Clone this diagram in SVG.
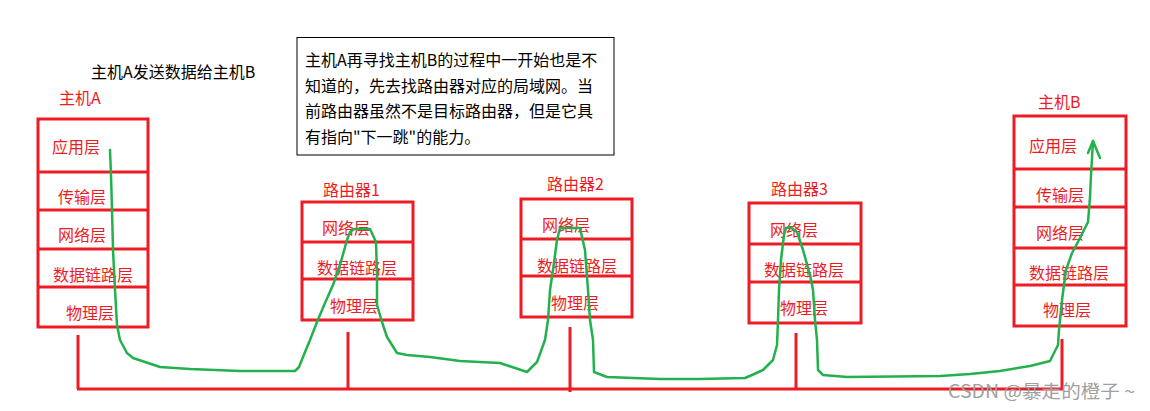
<svg xmlns="http://www.w3.org/2000/svg" width="1150" height="411" viewBox="0 0 1150 411">
<style>
.box{fill:none;stroke:#ed1c24;stroke-width:3}
.wire{fill:none;stroke:#ed1c24;stroke-width:3}
.lbl{font-family:"Microsoft YaHei","Noto Sans CJK SC",sans-serif;font-size:16px;fill:#ed1c24;dominant-baseline:central}
.blk{font-family:"Microsoft YaHei","Noto Sans CJK SC",sans-serif;font-size:16px;fill:#000;dominant-baseline:central}
.path{fill:none;stroke:#22b14c;stroke-width:2.5;stroke-linejoin:round;stroke-linecap:round}
</style>
<rect width="1150" height="411" fill="#fff"/>
<text class="blk" x="91" y="71">主机A发送数据给主机B</text>
<g id="note">
<rect x="297" y="37.5" width="317" height="117.5" fill="#fff" stroke="#000" stroke-width="1"/>
<text class="blk" x="305" y="59">主机A再寻找主机B的过程中一开始也是不</text>
<text class="blk" x="305" y="85">知道的，先去找路由器对应的局域网。当</text>
<text class="blk" x="305" y="110">前路由器虽然不是目标路由器，但是它具</text>
<text class="blk" x="305" y="136">有指向"下一跳"的能力。</text>
</g>
<g id="hostA">
<text class="lbl" x="59" y="97">主机A</text>
<rect class="box" x="38" y="119" width="110" height="208"/>
<line class="box" x1="38" y1="172" x2="148" y2="172"/>
<line class="box" x1="38" y1="210" x2="148" y2="210"/>
<line class="box" x1="38" y1="249" x2="148" y2="249"/>
<line class="box" x1="38" y1="287" x2="148" y2="287"/>
<text class="lbl" x="52" y="146">应用层</text>
<text class="lbl" x="58" y="196">传输层</text>
<text class="lbl" x="58" y="234">网络层</text>
<text class="lbl" x="53" y="274">数据链路层</text>
<text class="lbl" x="66" y="312">物理层</text>
</g>
<g id="router1">
<text class="lbl" x="323" y="189">路由器1</text>
<rect class="box" x="302" y="202" width="111" height="118"/>
<line class="box" x1="302" y1="242" x2="413" y2="242"/>
<line class="box" x1="302" y1="279" x2="413" y2="279"/>
<text class="lbl" x="322" y="227">网络层</text>
<text class="lbl" x="317" y="267">数据链路层</text>
<text class="lbl" x="330" y="305">物理层</text>
</g>
<g id="router2">
<text class="lbl" x="547" y="183">路由器2</text>
<rect class="box" x="521" y="199" width="111" height="118"/>
<line class="box" x1="521" y1="239" x2="632" y2="239"/>
<line class="box" x1="521" y1="276" x2="632" y2="276"/>
<text class="lbl" x="542" y="224">网络层</text>
<text class="lbl" x="537" y="265">数据链路层</text>
<text class="lbl" x="551" y="302">物理层</text>
</g>
<g id="router3">
<text class="lbl" x="771" y="188">路由器3</text>
<rect class="box" x="749" y="203" width="112" height="120"/>
<line class="box" x1="749" y1="244" x2="861" y2="244"/>
<line class="box" x1="749" y1="282" x2="861" y2="282"/>
<text class="lbl" x="770" y="229">网络层</text>
<text class="lbl" x="764" y="269">数据链路层</text>
<text class="lbl" x="780" y="307">物理层</text>
</g>
<g id="hostB">
<text class="lbl" x="1038" y="101">主机B</text>
<rect class="box" x="1014" y="116" width="112" height="210"/>
<line class="box" x1="1014" y1="169" x2="1126" y2="169"/>
<line class="box" x1="1014" y1="207" x2="1126" y2="207"/>
<line class="box" x1="1014" y1="248" x2="1126" y2="248"/>
<line class="box" x1="1014" y1="285" x2="1126" y2="285"/>
<text class="lbl" x="1029" y="145">应用层</text>
<text class="lbl" x="1036" y="194">传输层</text>
<text class="lbl" x="1036" y="232">网络层</text>
<text class="lbl" x="1029" y="272">数据链路层</text>
<text class="lbl" x="1043" y="309">物理层</text>
</g>
<g id="connectors">
<line class="wire" x1="77" y1="389" x2="1063" y2="389"/>
<line class="wire" x1="78" y1="335" x2="78" y2="389"/>
<line class="wire" x1="348" y1="332" x2="348" y2="389"/>
<line class="wire" x1="570" y1="327" x2="570" y2="392"/>
<line class="wire" x1="796" y1="333" x2="796" y2="389"/>
<line class="wire" x1="1062" y1="339" x2="1062" y2="389"/>
<path class="path" d="M110,150 L111,175 L112,210 L113,250 L115,290 L117,325 L120,340 L127,353 L133,358 L145,362 L160,367 L190,369 L240,371 L295,371 L299,367 L303,357 L310,340 L317,322 L325,303 L333,285 L340,265 L347,240 L350,232 L354,229 L370,229 L376,242 L377,275 L377,305 L382,322 L387,337 L397,353 L407,355 L430,357 L460,361 L500,363 L527,372 L537,362 L545,340 L548,320 L550,290 L553,270 L557,240 L560,228 L580,228 L585,250 L588,290 L590,320 L593,340 L594,372 L607,377 L660,379 L700,379 L745,378 L752,375 L763,370 L773,360 L777,345 L778,320 L779,290 L781,260 L784,235 L786,228 L790,227 L797,232 L803,250 L810,275 L813,290 L815,320 L817,340 L818,370 L823,375 L847,377 L940,376 L970,374 L1000,371 L1030,366 L1050,361 L1058,345 L1059,330 L1062,300 L1066,270 L1072,253 L1080,238 L1088,222 L1090,197 L1091,175 L1093,141"/>
<path class="path" d="M1088,153 L1093,141 L1100,158"/>
</g>
<text x="948" y="390" textLength="187" lengthAdjust="spacingAndGlyphs" font-family="Microsoft YaHei,Noto Sans CJK SC,sans-serif" font-size="18" fill="#a0a0a0" dominant-baseline="central">CSDN @暴走的橙子 ~</text>
</svg>
